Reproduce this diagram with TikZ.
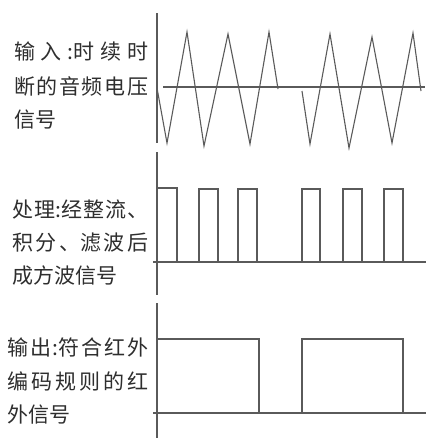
\documentclass[tikz,border=0pt]{standalone}
\usepackage{fontspec}
\newfontfamily\cjk{Noto Sans CJK SC}
\definecolor{ln}{HTML}{5A5A5A}
\definecolor{tx}{HTML}{2E2E2E}
\tikzset{
  wave/.style={draw=ln, line width=1.1pt, line join=miter},
  axisline/.style={draw=ln, line width=1.1pt},
  lbl/.style={anchor=west, inner sep=0pt, text=tx, font=\cjk\fontsize{21pt}{22pt}\selectfont},
}
\newcommand\jfull[2]{\hbox to #1{#2}}
\begin{document}
\begin{tikzpicture}[x=1pt,y=-1pt]
\useasboundingbox (0,0) rectangle (427,440);
% panel 1
\draw[axisline] (157,13) -- (157,143);
\draw[axisline] (163,87) -- (425,87);
\draw[wave] (157,88) -- (167,143) -- (187,32) -- (204,146) -- (228,34) -- (250,144) -- (269,32) -- (278,89);
\draw[wave] (302,91) -- (310,144) -- (330,34) -- (349,148) -- (372,37) -- (392,143) -- (413,33) -- (421,91);
\node[lbl] (a1) at (14,52) {\jfull{134pt}{输\hfill 入\hfill :时\hfill 续\hfill 时}};
\node[lbl] (a2) at (14,86) {\jfull{134pt}{断\hfill 的\hfill 音\hfill 频\hfill 电\hfill 压}};
\node[lbl] (a3) at (14,120) {信\hspace{0.5pt}号};
% panel 2
\draw[axisline] (157,152) -- (157,295);
\draw[axisline] (153,262) -- (426,262);
\draw[wave] (157,188) -- (177,188) -- (177,262);
\foreach \l/\r in {199/218,238/257,302/320,343/362,384/403}
  \draw[wave] (\l,262) -- (\l,189) -- (\r,189) -- (\r,262);
\node[lbl] (b1) at (12,210) {\jfull{136pt}{处\hfill 理\hfill :经\hfill 整\hfill 流\hfill 、}};
\node[lbl] (b2) at (12,243) {\jfull{136pt}{积\hfill 分\hfill 、滤\hfill 波\hfill 后}};
\node[lbl] (b3) at (12,276) {成方波信号};
% panel 3
\draw[axisline] (157,303) -- (157,438);
\draw[axisline] (153,413) -- (426,413);
\draw[wave] (157,339) -- (259,339) -- (259,413);
\draw[wave] (302,413) -- (302,339) -- (403,339) -- (403,413);
\node[lbl] (c1) at (7,347) {\jfull{141pt}{输\hfill 出\hfill :符\hfill 合\hfill 红\hfill 外}};
\node[lbl] (c2) at (7,381) {\jfull{141pt}{编\hfill 码\hfill 规\hfill 则\hfill 的\hfill 红}};
\node[lbl] (c3) at (7,415) {外信号};
\end{tikzpicture}
\end{document}
